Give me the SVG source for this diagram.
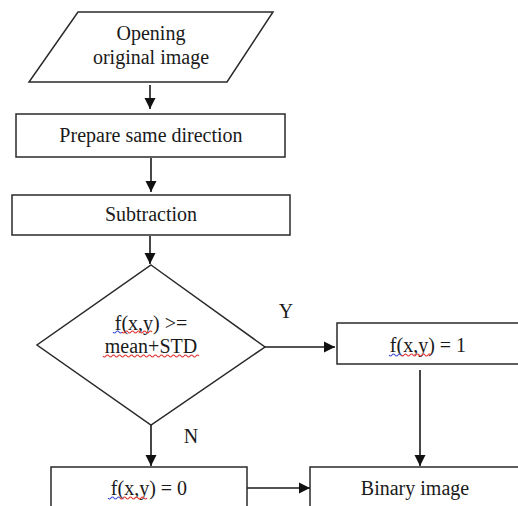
<svg xmlns="http://www.w3.org/2000/svg" width="518" height="506" viewBox="0 0 518 506">
<defs>
<marker id="ah" markerUnits="userSpaceOnUse" markerWidth="12" markerHeight="12" refX="11" refY="6" orient="auto">
<path d="M0,0.5 L11,6 L0,11.5 Z" fill="#111"/>
</marker>
<pattern id="none" width="1" height="1"/>
</defs>
<style>
.s{fill:#fff;stroke:#2a2a2a;stroke-width:1.5}
.t{font-family:"Liberation Serif","Times New Roman",serif;font-size:20px;fill:#1a1a1a;text-anchor:middle}
.c{fill:none;stroke:#1a1a1a;stroke-width:1.6}
.wb{fill:none;stroke:#3b4fd6;stroke-width:1.1}
.wr{fill:none;stroke:#e03030;stroke-width:1.1}
</style>
<rect width="518" height="506" fill="#fff"/>
<g id="connectors">
<line class="c" x1="150" y1="85" x2="150" y2="109" marker-end="url(#ah)"/>
<line class="c" x1="151" y1="158" x2="151" y2="192" marker-end="url(#ah)"/>
<line class="c" x1="150" y1="236" x2="150" y2="264" marker-end="url(#ah)"/>
<line class="c" x1="265" y1="347" x2="335" y2="347" marker-end="url(#ah)"/>
<line class="c" x1="420" y1="370" x2="420" y2="466" marker-end="url(#ah)"/>
<line class="c" x1="151" y1="425" x2="151" y2="466" marker-end="url(#ah)"/>
<line class="c" x1="247" y1="488" x2="310" y2="488" marker-end="url(#ah)"/>
<text class="t" x="286" y="318">Y</text>
<text class="t" x="191" y="443">N</text>
</g>
<g id="n1">
<polygon class="s" points="78,12 273,12 227,82 29,82"/>
<text class="t" x="151" y="40">Opening</text>
<text class="t" x="151" y="64">original image</text>
</g>
<g id="n2">
<rect class="s" x="16" y="114" width="269" height="43"/>
<text class="t" x="151" y="142">Prepare same direction</text>
</g>
<g id="n3">
<rect class="s" x="12" y="195" width="278" height="40"/>
<text class="t" x="151" y="221">Subtraction</text>
</g>
<g id="n4">
<polygon class="s" points="151,265 265,347 151,425 37,345"/>
<text class="t" x="151" y="330">f(x,y) &gt;=</text>
<text class="t" x="151" y="353">mean+STD</text>
<path class="wb" d="M113,332 q1.5,2 3,0 t3,0 t3,0"/>
<path class="wr" d="M122,332 q1.5,2 3,0 t3,0 t3,0 t3,0 t3,0 t3,0 t3,0 t3,0 t3,0 t3,0"/>
<path class="wr" d="M103,356 q1.5,2 3,0 t3,0 t3,0 t3,0 t3,0 t3,0 t3,0 t3,0 t3,0 t3,0 t3,0 t3,0 t3,0 t3,0 t3,0 t3,0 t3,0 t3,0 t3,0 t3,0 t3,0 t3,0 t3,0 t3,0 t3,0 t3,0 t3,0 t3,0 t3,0 t3,0 t3,0 t3,0"/>
</g>
<g id="n5">
<rect class="s" x="337" y="323" width="190" height="41"/>
<text class="t" x="428" y="352">f(x,y) = 1</text>
<path class="wb" d="M389,355 q1.5,2 3,0 t3,0 t3,0 t3,0"/>
<path class="wr" d="M401,355 q1.5,2 3,0 t3,0 t3,0 t3,0 t3,0 t3,0 t3,0 t3,0 t3,0 t3,0"/>
</g>
<g id="n6">
<rect class="s" x="51" y="467" width="196" height="50"/>
<text class="t" x="149" y="495">f(x,y) = 0</text>
<path class="wb" d="M108,498 q1.5,2 3,0 t3,0 t3,0 t3,0"/>
<path class="wr" d="M120,498 q1.5,2 3,0 t3,0 t3,0 t3,0 t3,0 t3,0 t3,0 t3,0 t3,0"/>
</g>
<g id="n7">
<rect class="s" x="310" y="467" width="220" height="50"/>
<text class="t" x="415" y="495">Binary image</text>
</g>
</svg>
